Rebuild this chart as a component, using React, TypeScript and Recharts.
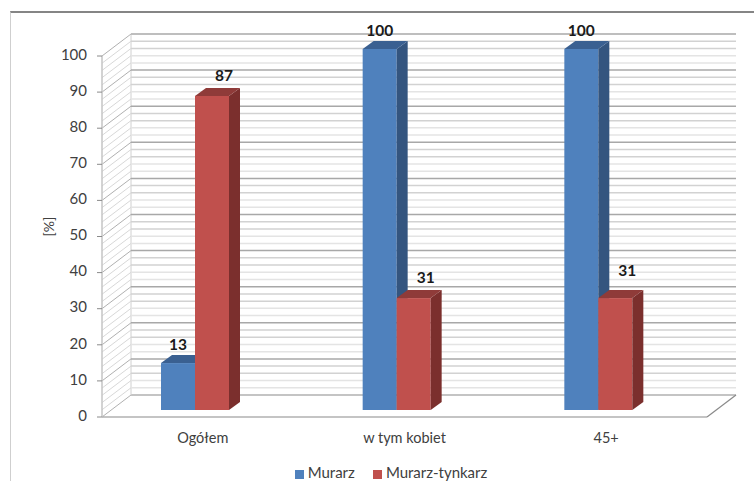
import { BarChart, Bar, XAxis, YAxis, CartesianGrid, Legend, LabelList } from 'recharts';

const categories = ['Ogółem', 'w tym kobiet', '45+'];
const murarz = [13, 100, 100];
const murarzTynkarz = [87, 31, 31];
const yTicks = [0, 10, 20, 30, 40, 50, 60, 70, 80, 90, 100];
const gridValues = Array.from({ length: 51 }, (_, i) => i * 2);

const data = categories.map((name, i) => ({
  name,
  murarz: murarz[i],
  murarzTynkarz: murarzTynkarz[i],
}));

// Fake 3D: how far the walls recede, and how far the bars sit in from the front edge.
const WALL_DX = 29;
const WALL_DY = 22;
const BAR_DX = -8;
const BAR_DY = -7;
const BAR_DEPTH_X = 11;
const BAR_DEPTH_Y = 8;

const PLOT_BOTTOM = 416;
const UNITS_PER_PX = 1 / 3.6;
const AXIS_GREY = '#8a8a8a';
const TEXT = '#404040';
const FONT = 'Lato, "Open Sans", sans-serif';

// Shade of a wall line by its position inside a ten-unit band.
const MINOR_SHADES = ['#a8a8a8', '#e4e4e4', '#e4e4e4', '#d2d2d2', '#d2d2d2'];

function WallLine(props: any) {
  const { x1, y1, x2 } = props;
  const value = Math.round((PLOT_BOTTOM - y1) * UNITS_PER_PX);
  const shade = MINOR_SHADES[(value % 10) / 2];
  const backY = y1 - WALL_DY;
  const backX = x1 + WALL_DX;
  return (
    <g key={props.key}>
      <line x1={x1} y1={y1} x2={backX} y2={backY} stroke={value % 10 === 0 ? '#b0b0b0' : '#d8d8d8'} />
      {value > 0 && <line x1={backX} y1={backY} x2={x2 + WALL_DX} y2={backY} stroke={shade} strokeWidth={1.5} />}
      {value === 0 && (
        <>
          <line x1={backX} y1={backY} x2={x2 + WALL_DX} y2={backY} stroke={AXIS_GREY} strokeWidth={1.2} />
          <line x1={x2} y1={y1} x2={x2 + WALL_DX} y2={backY} stroke={AXIS_GREY} strokeWidth={1.2} />
          <line x1={backX} y1={backY} x2={backX} y2={backY - 360} stroke="#d0d0d0" />
        </>
      )}
    </g>
  );
}

function makeBox(front: string, side: string, top: string) {
  return function Box(props: any) {
    const { width, height } = props;
    const x = props.x + BAR_DX;
    const y = props.y + BAR_DY;
    const r = x + width;
    const b = y + height;
    return (
      <g>
        <rect x={x} y={y} width={width} height={height} fill={front} />
        <path
          d={`M${r},${y} L${r + BAR_DEPTH_X},${y - BAR_DEPTH_Y} L${r + BAR_DEPTH_X},${b - BAR_DEPTH_Y} L${r},${b} Z`}
          fill={side}
        />
        <path
          d={`M${x},${y} L${x + BAR_DEPTH_X},${y - BAR_DEPTH_Y} L${r + BAR_DEPTH_X},${y - BAR_DEPTH_Y} L${r},${y} Z`}
          fill={top}
        />
      </g>
    );
  };
}

function makeValueLabel(dx: number, lift: (index: number) => number) {
  return function ValueLabel(props: any) {
    const { x, y, width, value, index } = props;
    return (
      <text
        x={x + BAR_DX + width / 2 + dx}
        y={y + BAR_DY - lift(index)}
        textAnchor="middle"
        dominantBaseline="middle"
        fontFamily={FONT}
        fontSize={15.5}
        fontWeight={700}
        fill="#1a1a1a"
      >
        {value}
      </text>
    );
  };
}

function YTick(props: any) {
  const { x, y, payload } = props;
  return (
    <text x={x} y={y} textAnchor="end" dominantBaseline="middle" fontFamily={FONT} fontSize={15} fill={TEXT}>
      {payload.value}
    </text>
  );
}

export default function App() {
  return (
    <div style={{ position: 'fixed', left: 0, top: 0, width: 754, height: 481, background: '#fff', overflow: 'hidden' }}>
      <div
        style={{
          position: 'absolute',
          left: 10,
          top: 11,
          right: 0,
          bottom: 0,
          borderTop: '2px solid #858585',
          borderLeft: '1px solid #cfcfcf',
        }}
      />
      <BarChart
        width={754}
        height={481}
        data={data}
        margin={{ top: 56, right: 47, bottom: 16, left: 40 }}
        barSize={34}
        barGap={0}
        style={{ position: 'absolute', left: 0, top: 0 }}
      >
        <CartesianGrid vertical={false} horizontalValues={gridValues} horizontal={WallLine} />
        <XAxis
          dataKey="name"
          axisLine={{ stroke: AXIS_GREY, strokeWidth: 1.2 }}
          tickLine={false}
          tickMargin={10}
          tick={{ fontFamily: FONT, fontSize: 14.5, fill: TEXT }}
        />
        <YAxis
          width={62}
          domain={[0, 100]}
          ticks={yTicks}
          interval={0}
          axisLine={{ stroke: '#c4c4c4', strokeWidth: 1.5 }}
          tickLine={{ stroke: AXIS_GREY }}
          tickSize={5}
          tickMargin={10}
          tick={YTick}
          label={{
            value: '[%]',
            angle: -90,
            position: 'insideLeft',
            offset: 9,
            style: { fontFamily: FONT, fontSize: 14, fill: TEXT },
          }}
        />
        <Legend
          iconType="square"
          iconSize={9}
          layout="horizontal"
          wrapperStyle={{ left: 270, top: 463, width: 260, bottom: 'auto', fontFamily: FONT, fontSize: 15 }}
          formatter={(v: string) => <span style={{ color: TEXT, marginRight: 8 }}>{v}</span>}
        />
        <Bar
          dataKey="murarz"
          name="Murarz"
          fill="#4f81bd"
          isAnimationActive={false}
          shape={makeBox('#4f81bd', '#34557f', '#3a6091')}
        >
          <LabelList dataKey="murarz" content={makeValueLabel(0, () => 17)} />
        </Bar>
        <Bar
          dataKey="murarzTynkarz"
          name="Murarz-tynkarz"
          fill="#c0504d"
          isAnimationActive={false}
          shape={makeBox('#c0504d', '#7b2f2d', '#8f3b39')}
        >
          <LabelList dataKey="murarzTynkarz" content={makeValueLabel(12, (i) => (i === 2 ? 26 : 19))} />
        </Bar>
      </BarChart>
    </div>
  );
}
